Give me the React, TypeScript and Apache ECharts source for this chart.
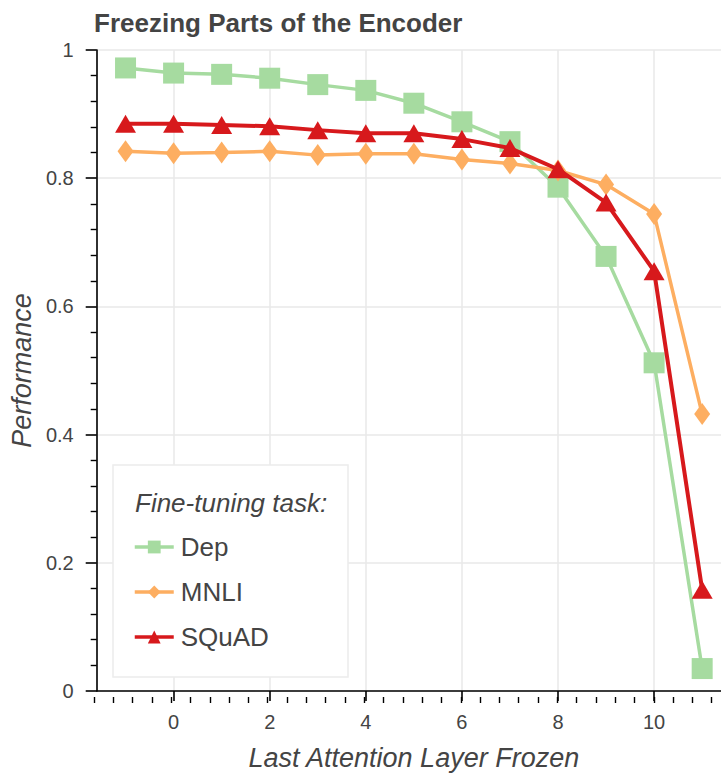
import React, { useEffect, useRef } from "react";
import * as echarts from "echarts";

const layers = [-1, 0, 1, 2, 3, 4, 5, 6, 7, 8, 9, 10, 11];
const dep = [0.972, 0.964, 0.962, 0.956, 0.946, 0.937, 0.917, 0.888, 0.857, 0.786, 0.678, 0.512, 0.035];
const mnli = [0.842, 0.839, 0.840, 0.842, 0.836, 0.838, 0.838, 0.829, 0.823, 0.812, 0.790, 0.744, 0.432];
const squad = [0.885, 0.885, 0.883, 0.881, 0.875, 0.870, 0.870, 0.861, 0.847, 0.814, 0.762, 0.655, 0.158];
const seriesNames = ["Dep", "MNLI", "SQuAD"];
const colors = ["#a6dba0", "#fdae61", "#d7191c"];

const FONT = "'Liberation Sans', Arial, Helvetica, sans-serif";
const TEXT = "#444444";

export default function App() {
  const ref = useRef<HTMLDivElement>(null);
  useEffect(() => {
    if (!ref.current) return;
    const chart = echarts.init(ref.current, null, { renderer: "svg" });
    const gridRect = { left: 94, top: 50, right: 0, bottom: 79 };
    const mk = (vals: number[]) => layers.map((x, i) => [x, vals[i]]);
    chart.setOption({
      animation: false,
      backgroundColor: "#ffffff",
      textStyle: { fontFamily: FONT },
      title: {
        text: "Freezing Parts of the Encoder",
        left: 94,
        top: 10,
        padding: 0,
        textStyle: { fontFamily: FONT, fontSize: 26, fontWeight: "bold", color: TEXT },
      },
      grid: [
        { ...gridRect, containLabel: false },
        { ...gridRect, containLabel: false },
      ],
      xAxis: [
        {
          type: "value",
          gridIndex: 0,
          min: -1.6,
          max: 11.6,
          minInterval: 2,
          maxInterval: 2,
          name: "Last Attention Layer Frozen",
          nameLocation: "middle",
          nameGap: 53,
          nameTextStyle: { fontFamily: FONT, fontSize: 27, fontStyle: "italic", color: TEXT },
          axisLine: { show: true, onZero: false, lineStyle: { color: "#000", width: 1.6 } },
          axisTick: { show: true, length: 10, lineStyle: { color: "#000", width: 1.6 } },
          axisLabel: {
            show: true,
            margin: 21,
            fontSize: 20,
            color: TEXT,
            fontFamily: FONT,
            showMinLabel: false,
            showMaxLabel: false,
          },
          splitLine: { show: true, lineStyle: { color: "#e8e8e8", width: 1.5 } },
        },
        {
          type: "value",
          gridIndex: 1,
          min: -1.6,
          max: 11.6,
          interval: 0.4,
          axisLine: { show: false, onZero: false },
          axisTick: { show: true, length: 6, lineStyle: { color: "#000", width: 1.4 } },
          axisLabel: { show: false },
          splitLine: { show: false },
        },
      ],
      yAxis: [
        {
          type: "value",
          gridIndex: 0,
          min: 0,
          max: 1,
          interval: 0.2,
          name: "Performance",
          nameLocation: "middle",
          nameGap: 59,
          nameTextStyle: { fontFamily: FONT, fontSize: 27, fontStyle: "italic", color: TEXT },
          axisLine: { show: true, onZero: false, lineStyle: { color: "#000", width: 1.6 } },
          axisTick: { show: true, length: 11, lineStyle: { color: "#000", width: 1.6 } },
          minorTick: { show: true, splitNumber: 5, length: 6, lineStyle: { color: "#000", width: 1.4 } },
          axisLabel: { margin: 23, fontSize: 20, color: TEXT, fontFamily: FONT },
          splitLine: { show: true, lineStyle: { color: "#e8e8e8", width: 1.5 } },
        },
        { type: "value", gridIndex: 1, min: 0, max: 1, show: false },
      ],
      legend: {
        data: seriesNames,
        orient: "vertical",
        left: 133,
        top: 534,
        padding: 0,
        itemWidth: 39,
        itemHeight: 16,
        itemGap: 19,
        lineStyle: { width: 3.5 },
        textStyle: { fontFamily: FONT, fontSize: 26, color: TEXT, padding: [0, 0, 0, 2] },
        z: 10,
      },
      graphic: [
        {
          type: "rect",
          z: 5,
          shape: { x: 113, y: 465, width: 235, height: 212 },
          style: { fill: "#ffffff", stroke: "#ececec", lineWidth: 1.5 },
        },
        {
          type: "text",
          z: 6,
          x: 135,
          y: 503,
          style: {
            text: "Fine-tuning task:",
            fill: TEXT,
            font: `italic 26px ${FONT}`,
            verticalAlign: "middle",
          },
        },
      ],
      series: [
        {
          name: seriesNames[0],
          type: "line",
          xAxisIndex: 0,
          yAxisIndex: 0,
          data: mk(dep),
          symbol: "rect",
          symbolSize: 21,
          color: colors[0],
          lineStyle: { color: colors[0], width: 3.5 },
          itemStyle: { color: colors[0] },
          z: 2,
        },
        {
          name: seriesNames[1],
          type: "line",
          xAxisIndex: 0,
          yAxisIndex: 0,
          data: mk(mnli),
          symbol: "diamond",
          symbolSize: [16, 22],
          color: colors[1],
          lineStyle: { color: colors[1], width: 3.5 },
          itemStyle: { color: colors[1] },
          z: 3,
        },
        {
          name: seriesNames[2],
          type: "line",
          xAxisIndex: 0,
          yAxisIndex: 0,
          data: mk(squad),
          symbol: "triangle",
          symbolSize: [21, 18],
          color: colors[2],
          lineStyle: { color: colors[2], width: 4 },
          itemStyle: { color: colors[2] },
          z: 4,
        },
      ],
    });
    return () => chart.dispose();
  }, []);
  return (
    <div style={{ position: "absolute", left: 0, top: 0, width: 721, height: 776, overflow: "hidden" }}>
      <div ref={ref} style={{ width: 731, height: 776 }} />
    </div>
  );
}
